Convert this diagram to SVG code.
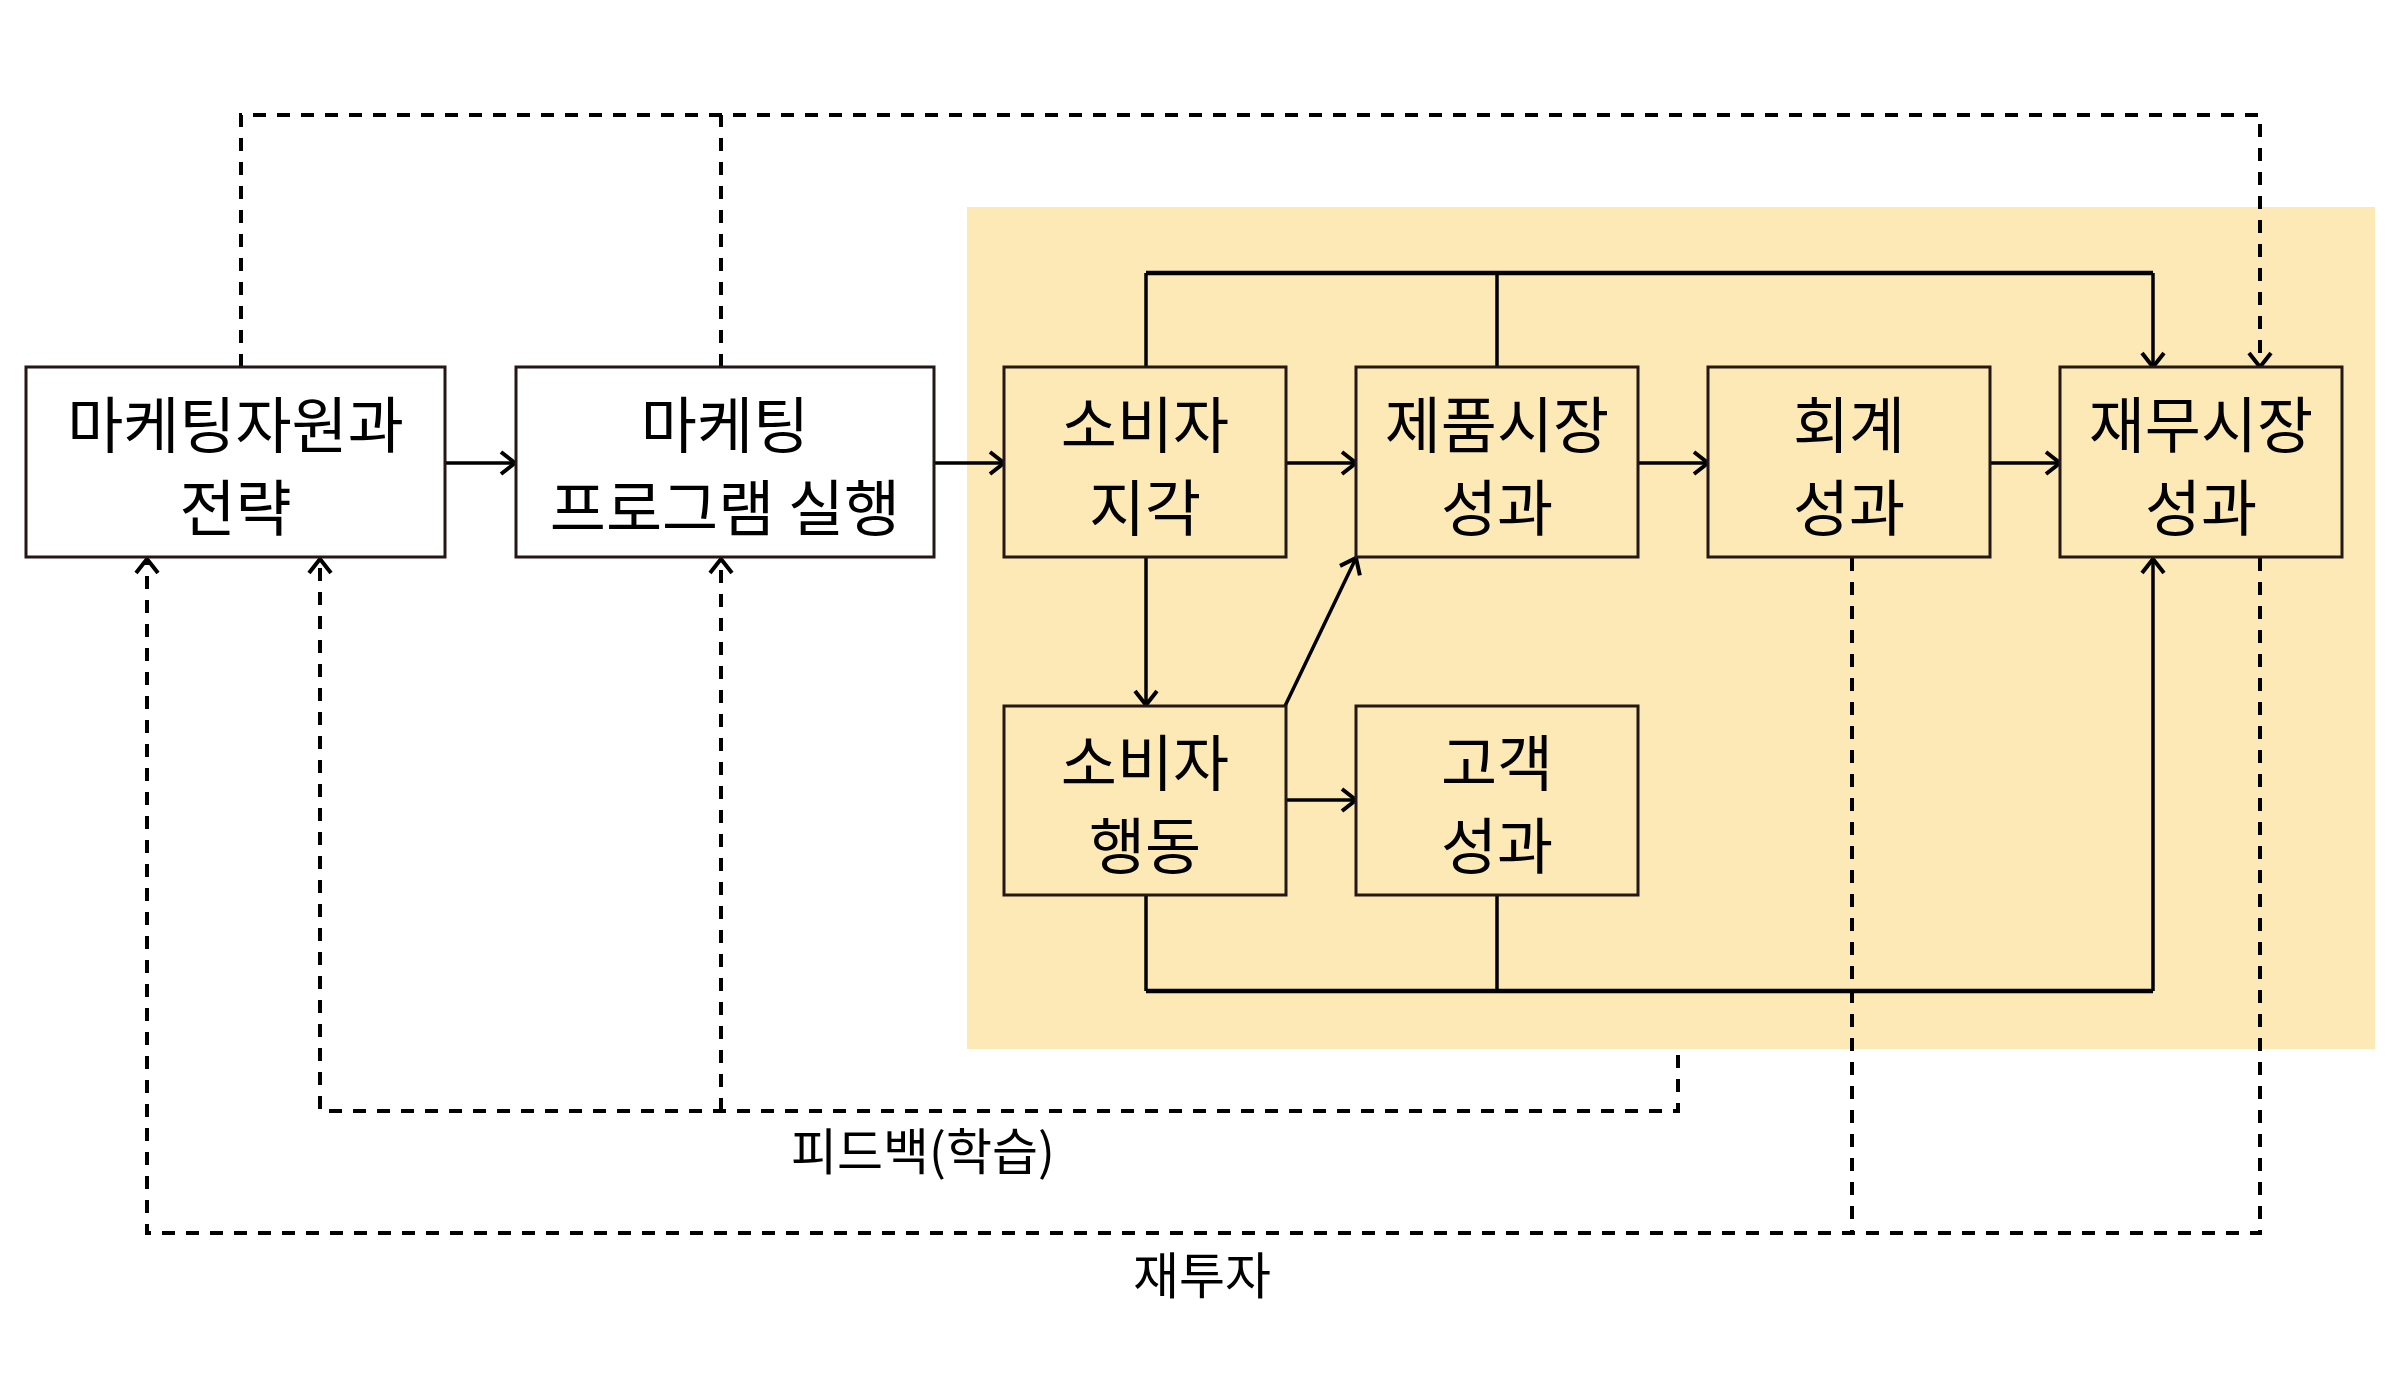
<svg xmlns="http://www.w3.org/2000/svg" width="2400" height="1400" viewBox="0 0 2400 1400">
<style>
.box{stroke:#231815;stroke-width:3}
.w{fill:#ffffff}
.y{fill:#fde9b5}
.t{font-family:"Noto Sans CJK KR","Noto Sans",sans-serif;font-size:61px;fill:#000;text-anchor:middle;dominant-baseline:central}
.lbl{font-family:"Noto Sans CJK KR","Noto Sans",sans-serif;font-size:50px;fill:#000;text-anchor:middle;dominant-baseline:central}
.s{fill:none;stroke:#000;stroke-width:3.5}
.bus{fill:none;stroke:#000;stroke-width:4.5}
.d{fill:none;stroke:#000;stroke-width:4;stroke-dasharray:13 11}
</style>
<defs>
<marker id="ah" markerUnits="userSpaceOnUse" markerWidth="30" markerHeight="30" viewBox="-20 -15 24 30" refX="0" refY="0" orient="auto">
<path d="M-14,-11 L0,0 L-14,11" fill="none" stroke="#000" stroke-width="4"/>
</marker>
</defs>
<rect x="0" y="0" width="2400" height="1400" fill="#ffffff"/>
<rect x="967" y="207" width="1408" height="842" fill="#fde9b5"/>

<g id="connectors">
<line class="s" x1="445" y1="463" x2="515" y2="463" marker-end="url(#ah)"/>
<line class="s" x1="934" y1="463" x2="1004" y2="463" marker-end="url(#ah)"/>
<line class="s" x1="1286" y1="463" x2="1356" y2="463" marker-end="url(#ah)"/>
<line class="s" x1="1638" y1="463" x2="1708" y2="463" marker-end="url(#ah)"/>
<line class="s" x1="1990" y1="463" x2="2060" y2="463" marker-end="url(#ah)"/>
<line class="s" x1="1286" y1="800" x2="1356" y2="800" marker-end="url(#ah)"/>
<line class="s" x1="1146" y1="558" x2="1146" y2="705" marker-end="url(#ah)"/>
<line class="s" x1="1285" y1="706" x2="1356" y2="558" marker-end="url(#ah)"/>
<line class="s" x1="1146" y1="367" x2="1146" y2="273"/>
<line class="s" x1="1497" y1="367" x2="1497" y2="273"/>
<line class="bus" x1="1146" y1="273" x2="2153" y2="273"/>
<line class="s" x1="2153" y1="273" x2="2153" y2="367" marker-end="url(#ah)"/>
<line class="s" x1="1146" y1="895" x2="1146" y2="991"/>
<line class="s" x1="1497" y1="895" x2="1497" y2="991"/>
<line class="bus" x1="1146" y1="991" x2="2153" y2="991"/>
<line class="s" x1="2153" y1="991" x2="2153" y2="559" marker-end="url(#ah)"/>
<polyline class="d" points="241,367 241,115 2260,115 2260,367" marker-end="url(#ah)"/>
<line class="d" x1="721" y1="367" x2="721" y2="115"/>
<polyline class="d" points="1678,1055 1678,1111 320,1111 320,559" marker-end="url(#ah)"/>
<line class="d" x1="721" y1="1111" x2="721" y2="559" marker-end="url(#ah)"/>
<line class="d" x1="1852" y1="558" x2="1852" y2="1233"/>
<polyline class="d" points="2260,558 2260,1233 147,1233 147,559" marker-end="url(#ah)"/>
</g>

<g id="n1"><rect class="box w" x="26" y="367" width="419" height="190"/><text class="t" x="235.5" y="421">마케팅자원과</text><text class="t" x="235.5" y="504">전략</text></g>
<g id="n2"><rect class="box w" x="516" y="367" width="418" height="190"/><text class="t" x="725" y="421">마케팅</text><text class="t" x="725" y="504">프로그램 실행</text></g>
<g id="n3"><rect class="box y" x="1004" y="367" width="282" height="190"/><text class="t" x="1145" y="421">소비자</text><text class="t" x="1145" y="504">지각</text></g>
<g id="n4"><rect class="box y" x="1356" y="367" width="282" height="190"/><text class="t" x="1497" y="421">제품시장</text><text class="t" x="1497" y="504">성과</text></g>
<g id="n5"><rect class="box y" x="1708" y="367" width="282" height="190"/><text class="t" x="1849" y="421">회계</text><text class="t" x="1849" y="504">성과</text></g>
<g id="n6"><rect class="box y" x="2060" y="367" width="282" height="190"/><text class="t" x="2201" y="421">재무시장</text><text class="t" x="2201" y="504">성과</text></g>
<g id="n7"><rect class="box y" x="1004" y="706" width="282" height="189"/><text class="t" x="1145" y="759">소비자</text><text class="t" x="1145" y="842">행동</text></g>
<g id="n8"><rect class="box y" x="1356" y="706" width="282" height="189"/><text class="t" x="1497" y="759">고객</text><text class="t" x="1497" y="842">성과</text></g>

<g id="labels">
<text class="lbl" x="923" y="1148">피드백(학습)</text>
<text class="lbl" x="1202" y="1272">재투자</text>
</g>
</svg>
